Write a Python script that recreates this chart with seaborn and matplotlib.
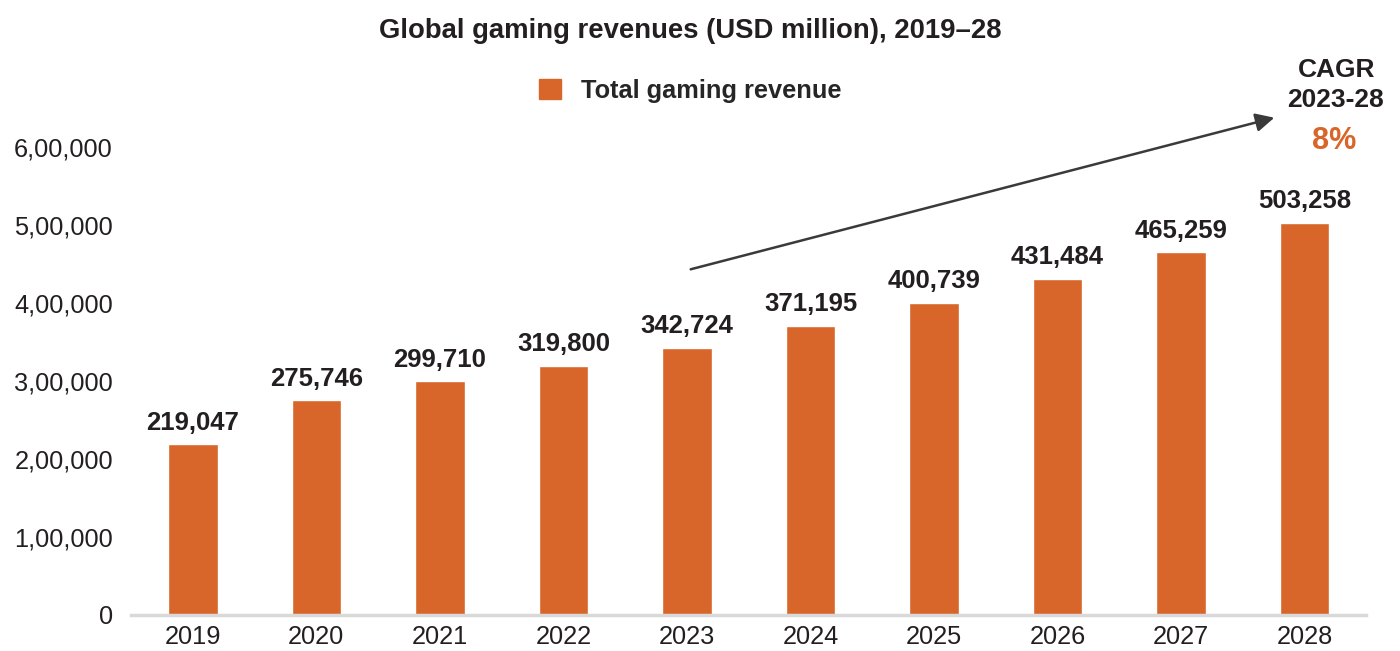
import matplotlib
matplotlib.use("Agg")
import matplotlib.pyplot as plt
import matplotlib.patches as mpatches
import seaborn as sns
import pandas as pd

# data
years = ["2019", "2020", "2021", "2022", "2023", "2024", "2025", "2026", "2027", "2028"]
revenue = [219047, 275746, 299710, 319800, 342724, 371195, 400739, 431484, 465259, 503258]
ytick_values = [0, 100000, 200000, 300000, 400000, 500000, 600000]
ytick_labels = ["0", "1,00,000", "2,00,000", "3,00,000", "4,00,000", "5,00,000", "6,00,000"]

bar_color = "#D8662A"
text_color = "#231F20"

sns.set_style("white")
plt.rcParams["font.family"] = ["Liberation Sans", "DejaVu Sans"]

df = pd.DataFrame({"Year": years, "Revenue": revenue})

fig = plt.figure(figsize=(14, 6.51), dpi=100)
ax = fig.add_axes([0.0936, 0.0553, 0.8824, 0.7187])

sns.barplot(data=df, x="Year", y="Revenue", color=bar_color, width=0.4,
            saturation=1, ax=ax)

ax.set_ylim(0, 600000)
ax.set_xlim(-0.5, 9.5)
ax.set_yticks(ytick_values)
ax.set_yticklabels(ytick_labels)
ax.set_xlabel("")
ax.set_ylabel("")
ax.tick_params(axis="both", length=0, labelsize=18.3, colors=text_color)
ax.tick_params(axis="y", pad=13)
ax.tick_params(axis="x", pad=7)

for side in ["top", "right", "left"]:
    ax.spines[side].set_visible(False)
ax.spines["bottom"].set_color("#D9D9D9")
ax.spines["bottom"].set_linewidth(2.5)

# value labels
for i, v in enumerate(revenue):
    ax.text(i, v + 12000, f"{v:,}", ha="center", va="bottom",
            fontsize=18.5, fontweight="bold", color=text_color)

# title
fig.text(0.493, 0.953, "Global gaming revenues (USD million), 2019\u201328",
         ha="center", va="center", fontsize=19.8, fontweight="bold", color=text_color)

# legend
handle = mpatches.Patch(color=bar_color, label="Total gaming revenue")
fig.legend(handles=[handle], loc="center", bbox_to_anchor=(0.493, 0.86),
           frameon=False, handlelength=0.85, handleheight=0.85,
           handletextpad=0.8, prop={"weight": "bold", "size": 18.3})

# CAGR arrow and text
fig.patches.append(mpatches.FancyArrowPatch(
    (688 / 1400, 1 - 270 / 651), (1277 / 1400, 1 - 117 / 651),
    transform=fig.transFigure, arrowstyle="-|>", mutation_scale=28,
    color="#3A3A3A", linewidth=1.8))

fig.text(1337 / 1400, 1 - 70 / 651, "CAGR", ha="center", va="center",
         fontsize=19, fontweight="bold", color=text_color)
fig.text(1335 / 1400, 1 - 100 / 651, "2023-28", ha="center", va="center",
         fontsize=19, fontweight="bold", color=text_color)
fig.text(1334 / 1400, 1 - 141 / 651, "8%", ha="center", va="center",
         fontsize=22, fontweight="bold", color=bar_color)

fig.savefig("out.png", dpi=100)
